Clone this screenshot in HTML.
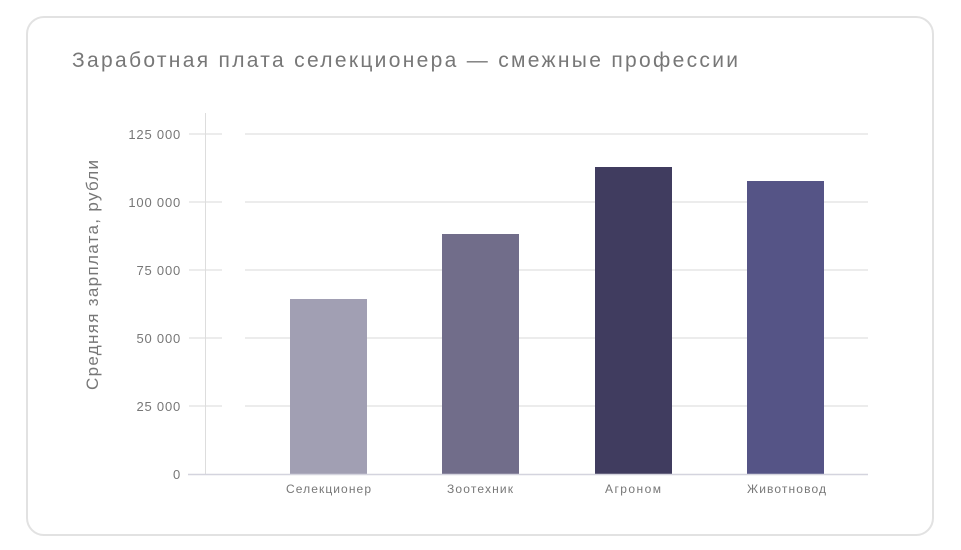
<!DOCTYPE html>
<html><head><meta charset="utf-8"><style>
body{margin:0;background:#fff;width:961px;height:550px;overflow:hidden;font-family:"Liberation Sans",sans-serif}
.card{position:absolute;left:26px;top:16px;width:908px;height:520px;border:2px solid #e2e2e2;border-radius:18px;box-sizing:border-box}
</style></head><body>
<div class="card"></div>
<svg width="961" height="550" style="position:absolute;left:0;top:0" font-family="Liberation Sans, sans-serif">
<text x="72" y="67" font-size="21" fill="#777" textLength="666" lengthAdjust="spacing">Заработная плата селекционера — смежные профессии</text>
<g stroke="#e6e6e6" stroke-width="1.5">
<line x1="189" y1="134" x2="222" y2="134"/><line x1="245" y1="134" x2="868" y2="134"/>
<line x1="189" y1="202" x2="222" y2="202"/><line x1="245" y1="202" x2="868" y2="202"/>
<line x1="189" y1="270" x2="222" y2="270"/><line x1="245" y1="270" x2="868" y2="270"/>
<line x1="189" y1="338" x2="222" y2="338"/><line x1="245" y1="338" x2="868" y2="338"/>
<line x1="189" y1="406" x2="222" y2="406"/><line x1="245" y1="406" x2="868" y2="406"/>
</g>
<line x1="205.5" y1="113" x2="205.5" y2="474" stroke="#ddd"/>
<g font-size="13" fill="#777" text-anchor="end" letter-spacing="0.8">
<text x="181" y="139">125 000</text><text x="181" y="207">100 000</text><text x="181" y="275">75 000</text><text x="181" y="343">50 000</text><text x="181" y="411">25 000</text><text x="181" y="479">0</text>
</g>
<text x="-390" y="98" transform="rotate(-90)" font-size="17" fill="#777" textLength="230" lengthAdjust="spacing">Средняя зарплата, рубли</text>
<rect x="290" y="299" width="77" height="175" fill="#a19fb3"/>
<rect x="442" y="234" width="77" height="240" fill="#716d8a"/>
<rect x="595" y="167" width="77" height="307" fill="#403c5f"/>
<rect x="747" y="181" width="77" height="293" fill="#555486"/>
<line x1="188" y1="474.5" x2="868" y2="474.5" stroke="#d4d4de" stroke-width="1.5"/>
<g font-size="12" fill="#777">
<text x="286" y="493" textLength="85" lengthAdjust="spacing">Селекционер</text>
<text x="447" y="493" textLength="66" lengthAdjust="spacing">Зоотехник</text>
<text x="605" y="493" textLength="56" lengthAdjust="spacing">Агроном</text>
<text x="747" y="493" textLength="79" lengthAdjust="spacing">Животновод</text>
</g>
</svg>
</body></html>
